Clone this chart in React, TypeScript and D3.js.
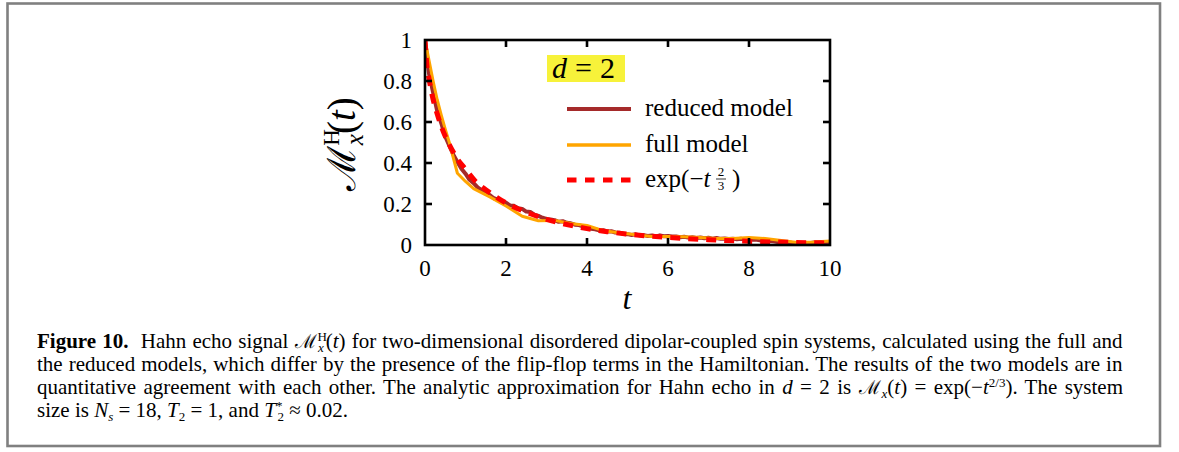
import React, { useLayoutEffect, useRef } from "react";
import * as d3 from "d3";

// ---------- data ----------
const xTicks = [0, 2, 4, 6, 8, 10];
const yTicks = [0, 0.2, 0.4, 0.6, 0.8, 1];
const yTickLabels = ["0", "0.2", "0.4", "0.6", "0.8", "1"];

// reduced model, sampled every 0.1 in t
const reducedStep = 0.1;
const reducedValues = [
  1.0, 0.835, 0.745, 0.655, 0.595, 0.53, 0.485, 0.44, 0.405, 0.372,
  0.348, 0.318, 0.302, 0.281, 0.268, 0.252, 0.243, 0.228, 0.221, 0.208,
  0.206, 0.193, 0.191, 0.179, 0.176, 0.163, 0.161, 0.148, 0.142, 0.133,
  0.127, 0.124, 0.121, 0.113, 0.116, 0.108, 0.106, 0.099, 0.097, 0.091,
  0.086, 0.079, 0.077, 0.071, 0.072, 0.066, 0.067, 0.061, 0.06, 0.054,
  0.053, 0.049, 0.052, 0.047, 0.048, 0.044, 0.046, 0.042, 0.047, 0.043,
  0.044, 0.041, 0.042, 0.038, 0.04, 0.036, 0.038, 0.034, 0.037, 0.033,
  0.035, 0.031, 0.034, 0.03, 0.032, 0.029, 0.031, 0.028, 0.03, 0.027,
  0.028, 0.025, 0.026, 0.022, 0.023, 0.019, 0.018, 0.015, 0.014, 0.011,
  0.012, 0.009, 0.01, 0.008, 0.01, 0.009, 0.012, 0.011, 0.014, 0.013,
  0.015,
];

const fullT = [0, 0.1, 0.2, 0.3, 0.4, 0.5, 0.6, 0.8, 1.0, 1.2, 1.6, 2.0, 2.4, 2.8, 3.2, 3.6, 4.0, 4.4, 4.8, 5.2, 5.6, 6.0, 6.4, 6.8, 7.2, 7.6, 8.0, 8.4, 8.8, 9.2, 9.6, 10.0];
const fullValues = [1.0, 0.9, 0.8, 0.71, 0.635, 0.565, 0.5, 0.35, 0.31, 0.275, 0.235, 0.19, 0.14, 0.118, 0.12, 0.105, 0.095, 0.07, 0.06, 0.05, 0.042, 0.042, 0.04, 0.036, 0.032, 0.032, 0.036, 0.032, 0.022, 0.012, 0.015, 0.02];

const expT = [0, 0.05, 0.1, 0.2, 0.3, 0.4, 0.5, 0.6, 0.8, 1.0, 1.25, 1.5, 1.75, 2, 2.5, 3, 3.5, 4, 4.5, 5, 5.5, 6, 7, 8, 9, 10];
const expValues = [1, 0.87, 0.81, 0.71, 0.64, 0.58, 0.53, 0.49, 0.42, 0.37, 0.31, 0.27, 0.235, 0.205, 0.16, 0.125, 0.1, 0.08, 0.065, 0.053, 0.044, 0.037, 0.026, 0.018, 0.013, 0.01];

const seriesNames = ["reduced model", "full model"];
const seriesColors = ["#a52a2a", "#ffa500", "#ff0000"];

// ---------- layout ----------
const W = 1179;
const H = 452;
const plot = { left: 425, right: 830, top: 40, bottom: 245 };
const serif = "'Liberation Serif', 'DejaVu Serif', serif";

export default function App() {
  const x = d3.scaleLinear().domain([0, 10]).range([plot.left, plot.right]);
  const y = d3.scaleLinear().domain([0, 1]).range([plot.bottom, plot.top]);

  const reducedPts: [number, number][] = reducedValues.map((v, i) => [i * reducedStep, v]);
  const fullPts: [number, number][] = fullT.map((t, i) => [t, fullValues[i]]);
  const expPts: [number, number][] = expT.map((t, i) => [t, expValues[i]]);

  const line = d3.line<[number, number]>().x((d) => x(d[0])).y((d) => y(d[1]));
  const smooth = d3
    .line<[number, number]>()
    .x((d) => x(d[0]))
    .y((d) => y(d[1]))
    .curve(d3.curveMonotoneX);

  const tickLen = 7;
  const axisW = 2.6;

  const legX1 = 567;
  const legX2 = 631;
  const legTextX = 645;
  const legRows = [109, 145, 180];

  const capX = 37;
  const capSize = 21;
  const capRows = [348, 371, 394, 417];
  const capW = 1086;

  const r1 = useRef<SVGTextElement>(null);
  const r2 = useRef<SVGTextElement>(null);
  const r3 = useRef<SVGTextElement>(null);

  useLayoutEffect(() => {
    [r1, r2, r3].forEach((r) => {
      const el = r.current;
      if (!el) return;
      el.style.wordSpacing = "0px";
      const len = el.getBBox().width;
      const txt = el.textContent || "";
      const spaces = (txt.match(/[ \u00a0]/g) || []).length;
      if (spaces > 0) {
        el.style.wordSpacing = ((capW - len) / spaces).toFixed(2) + "px";
      }
    });
  }, []);

  return (
    <svg
      width={W}
      height={H}
      style={{ position: "absolute", left: 0, top: 0, background: "#fff" }}
      fontFamily={serif}
    >
      <rect x={0} y={0} width={W} height={H} fill="#fff" />
      {/* outer frame */}
      <rect x={7.5} y={3.5} width={1152.5} height={442.5} fill="none" stroke="#808080" strokeWidth={2.6} />

      <defs>
        <clipPath id="clipPlot">
          <rect x={plot.left} y={plot.top - 2} width={plot.right - plot.left} height={plot.bottom - plot.top + 2} />
        </clipPath>
      </defs>

      {/* data */}
      <g clipPath="url(#clipPlot)">
        <path d={line(reducedPts) || ""} fill="none" stroke={seriesColors[0]} strokeWidth={4} strokeLinejoin="round" />
        <path d={line(fullPts) || ""} fill="none" stroke={seriesColors[1]} strokeWidth={3} strokeLinejoin="round" />
        <path d={smooth(expPts) || ""} fill="none" stroke={seriesColors[2]} strokeWidth={5} strokeDasharray="10,8" />
      </g>

      {/* ticks */}
      {xTicks.slice(1, -1).map((t) => (
        <g key={"xt" + t}>
          <line x1={x(t)} x2={x(t)} y1={plot.bottom} y2={plot.bottom - tickLen} stroke="#000" strokeWidth={axisW} />
          <line x1={x(t)} x2={x(t)} y1={plot.top} y2={plot.top + tickLen} stroke="#000" strokeWidth={axisW} />
        </g>
      ))}
      {yTicks.slice(1, -1).map((t) => (
        <g key={"yt" + t}>
          <line x1={plot.left} x2={plot.left + tickLen} y1={y(t)} y2={y(t)} stroke="#000" strokeWidth={axisW} />
          <line x1={plot.right} x2={plot.right - tickLen} y1={y(t)} y2={y(t)} stroke="#000" strokeWidth={axisW} />
        </g>
      ))}
      <rect
        x={plot.left}
        y={plot.top}
        width={plot.right - plot.left}
        height={plot.bottom - plot.top}
        fill="none"
        stroke="#000"
        strokeWidth={axisW}
      />

      {/* tick labels */}
      {xTicks.map((t) => (
        <text key={"xl" + t} x={x(t)} y={276} textAnchor="middle" fontSize={23}>
          {t}
        </text>
      ))}
      {yTicks.map((t, i) => (
        <text key={"yl" + t} x={412} y={y(t) + 8} textAnchor="end" fontSize={23}>
          {yTickLabels[i]}
        </text>
      ))}

      {/* axis titles */}
      <text x={627} y={309} textAnchor="middle" fontSize={32} fontStyle="italic">
        t
      </text>
      <g transform="translate(355,144) rotate(-90)">
        <text x={0} y={0} textAnchor="middle" fontSize={39}>
          <tspan fontFamily="'DejaVu Serif', serif">ℳ</tspan>
          <tspan fontSize={23} dy={-16}>H</tspan>
          <tspan fontSize={25} fontStyle="italic" dx={-16} dy={24}>x</tspan>
          <tspan dy={-8}>(</tspan>
          <tspan fontStyle="italic">t</tspan>
          <tspan>)</tspan>
        </text>
      </g>

      {/* d = 2 box */}
      <rect x={547} y={55} width={78} height={27} fill="#f7f23a" />
      <text x={552} y={78} fontSize={30}>
        <tspan fontStyle="italic">d</tspan>
        <tspan dx={8}>=</tspan>
        <tspan dx={8}>2</tspan>
      </text>

      {/* legend */}
      <line x1={legX1} x2={legX2} y1={legRows[0]} y2={legRows[0]} stroke={seriesColors[0]} strokeWidth={4} />
      <text x={legTextX} y={legRows[0] + 7} fontSize={25}>{seriesNames[0]}</text>
      <line x1={legX1} x2={legX2} y1={legRows[1]} y2={legRows[1]} stroke={seriesColors[1]} strokeWidth={3.5} />
      <text x={legTextX} y={legRows[1] + 7} fontSize={25}>{seriesNames[1]}</text>
      <line x1={legX1} x2={legX2} y1={legRows[2]} y2={legRows[2]} stroke={seriesColors[2]} strokeWidth={5} strokeDasharray="9.5,8.5" />
      <text x={legTextX} y={legRows[2] + 7} fontSize={25}>
        <tspan>exp(−</tspan>
        <tspan fontStyle="italic">t</tspan>
      </text>
      <text x={721} y={legRows[2] - 4} fontSize={13} textAnchor="middle">2</text>
      <line x1={716} x2={726} y1={legRows[2] - 1} y2={legRows[2] - 1} stroke="#000" strokeWidth={0.8} />
      <text x={721} y={legRows[2] + 10} fontSize={13} textAnchor="middle">3</text>
      <text x={732} y={legRows[2] + 7} fontSize={25}>)</text>

      {/* caption */}
      <text ref={r1} x={capX} y={capRows[0]} fontSize={capSize}>
        <tspan fontWeight="bold">Figure 10.</tspan>
        <tspan>{"\u00a0\u00a0Hahn echo signal "}</tspan>
        <tspan fontFamily="'DejaVu Serif', serif" fontSize={19}>ℳ</tspan>
        <tspan fontSize={13} dx={1} dy={-7}>H</tspan>
        <tspan fontSize={13} fontStyle="italic" dx={-9} dy={11}>x</tspan>
        <tspan dx={2} dy={-4}>(</tspan>
        <tspan fontStyle="italic">t</tspan>
        <tspan>) for two-dimensional disordered dipolar-coupled spin systems, calculated using the full and</tspan>
      </text>
      <text ref={r2} x={capX} y={capRows[1]} fontSize={capSize}>
        the reduced models, which differ by the presence of the flip-flop terms in the Hamiltonian. The results of the two models are in
      </text>
      <text ref={r3} x={capX} y={capRows[2]} fontSize={capSize}>
        <tspan>quantitative agreement with each other. The analytic approximation for Hahn echo in </tspan>
        <tspan fontStyle="italic">d</tspan>
        <tspan> = 2 is </tspan>
        <tspan fontFamily="'DejaVu Serif', serif" fontSize={19}>ℳ</tspan>
        <tspan fontSize={13} fontStyle="italic" dx={1} dy={4}>x</tspan>
        <tspan dy={-4}>(</tspan>
        <tspan fontStyle="italic">t</tspan>
        <tspan>) = exp(−</tspan>
        <tspan fontStyle="italic">t</tspan>
        <tspan fontSize={13} dy={-7}>2/3</tspan>
        <tspan dy={7}>). The system</tspan>
      </text>
      <text x={capX} y={capRows[3]} fontSize={capSize}>
        <tspan>size is </tspan>
        <tspan fontStyle="italic">N</tspan>
        <tspan fontSize={13} fontStyle="italic" dy={4}>s</tspan>
        <tspan dy={-4}> = 18, </tspan>
        <tspan fontStyle="italic">T</tspan>
        <tspan fontSize={13} dy={4}>2</tspan>
        <tspan dy={-4}> = 1, and </tspan>
        <tspan fontStyle="italic">T</tspan>
        <tspan fontSize={13} dy={-7}>*</tspan>
        <tspan fontSize={13} dx={-5} dy={11}>2</tspan>
        <tspan dy={-4}> ≈ 0.02.</tspan>
      </text>
    </svg>
  );
}
